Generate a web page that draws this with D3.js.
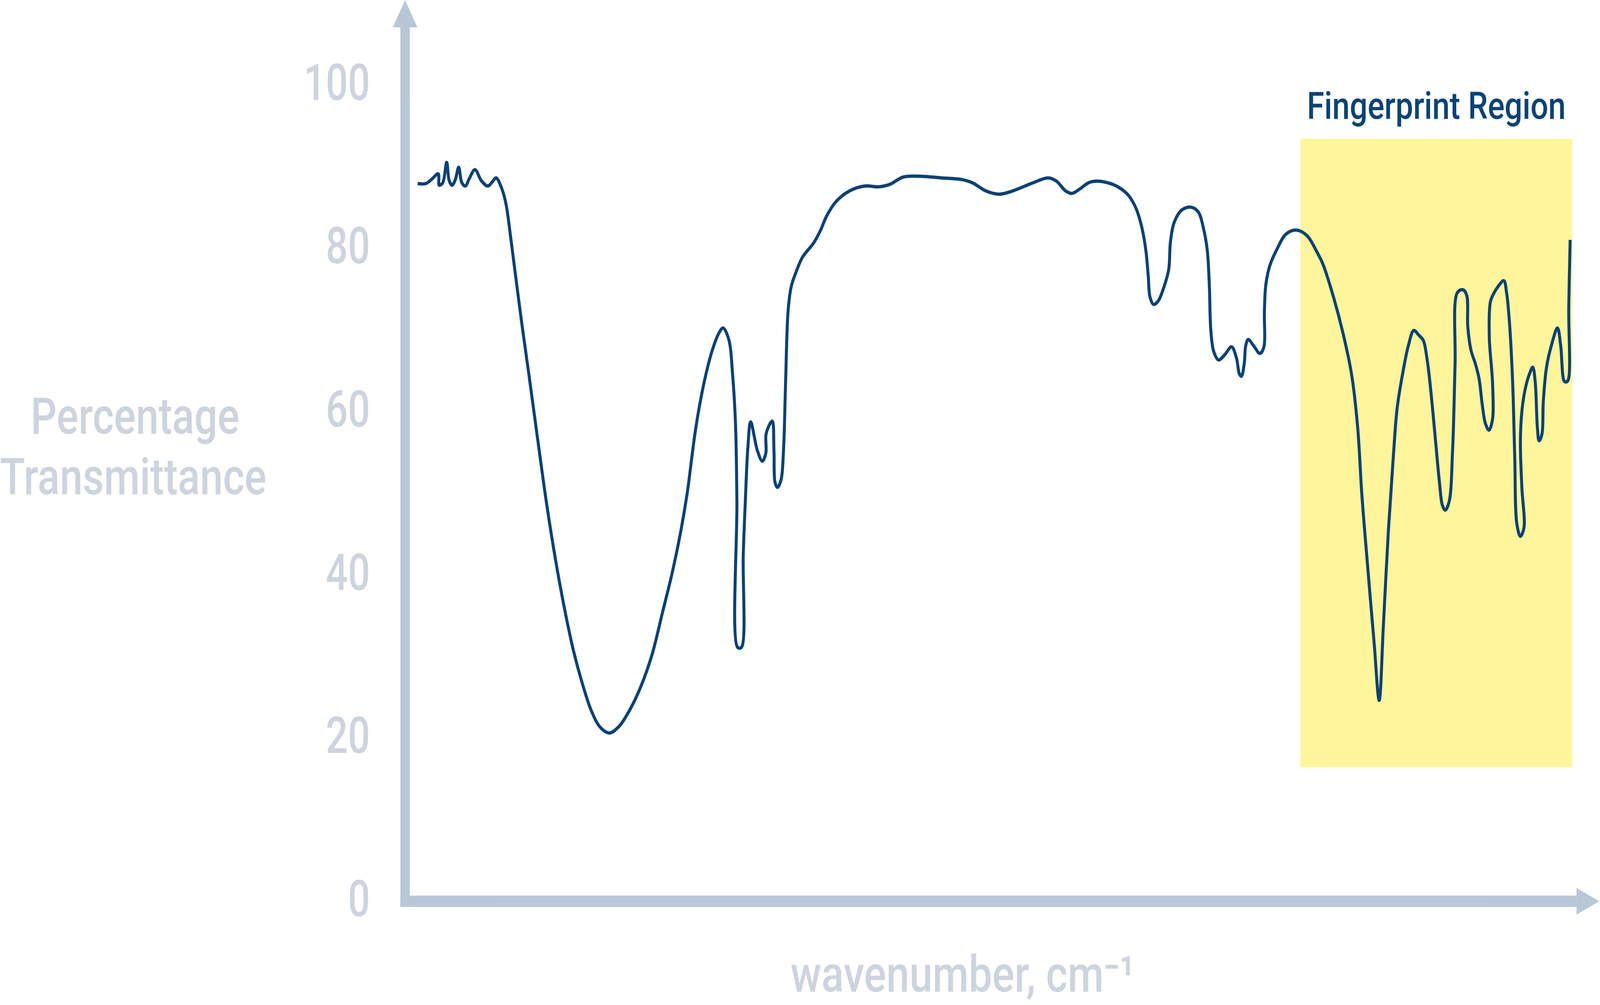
<!DOCTYPE html>
<html>
<head>
<meta charset="utf-8">
<title>IR spectrum - Percentage Transmittance</title>
<script src="https://d3js.org/d3.v7.min.js"></script>
<style>
  html, body { margin: 0; padding: 0; background: #fff; overflow: hidden; }
  svg { display: block; width: 100vw; height: 100vh; }
  .lbl {
    font-family: Roboto, "DejaVu Sans", sans-serif;
    font-weight: 500;
    fill: #cdd4de;
  }
</style>
</head>
<body>
<svg id="chart" viewBox="0 0 4562 2572" preserveAspectRatio="none"></svg>
<script>
// spectrum: wavenumber (cm-1) and % transmittance
const wavenumber = [
  4000,3977,3961,3942,3939,3929,3918,3911,3903,3894,
  3884,3875,3865,3854,3838,3819,3801,3787,3778,3762,
  3750,3737,3724,3705,3686,3660,3635,3610,3585,3559,
  3534,3508,3483,3457,3430,3401,3369,3337,3306,3281,
  3255,3236,3223,3214,3201,3185,3167,3148,3135,3119,
  3108,3100,3096,3094,3083,3078,3072,3065,3057,3038,
  3024,3014,3013,2996,2991,2988,2981,2971,2964,2958,
  2951,2942,2929,2910,2879,2860,2841,2815,2777,2733,
  2695,2663,2625,2580,2518,2460,2429,2391,2353,2315,
  2257,2214,2191,2165,2147,2126,2100,2077,2046,2017,
  1988,1966,1949,1938,1931,1926,1916,1903,1886,1873,
  1868,1857,1835,1809,1789,1775,1764,1758,1754,1746,
  1732,1715,1695,1681,1673,1667,1659,1655,1648,1632,
  1615,1604,1602,1598,1587,1566,1541,1511,1481,1453,
  1436,1407,1379,1355,1338,1326,1309,1291,1277,1265,
  1251,1237,1226,1211,1194,1179,1164,1152,1141,1130,
  1118,1106,1098,1090,1079,1069,1062,1056,1040,1029,
  1026,1017,1005,994,985,976,966,956,956,965,
  962,953,940,924,916,908,899,893,887,877,
  867,873,877,873,864,852,842,835,829,824,
  816,812,803,789,772,763,754,749,742,740,736
];
const transmittance = [
  87.5,87.5,88.0,88.7,87.3,87.6,90.1,87.9,87.3,87.9,
  89.5,87.6,87.2,88.1,89.2,87.8,87.2,87.8,88.2,86.9,
  85.0,81.0,76.6,70.3,64.4,56.1,48.3,41.5,35.6,30.3,
  26.3,22.9,20.9,20.2,21.0,22.9,25.8,29.7,35.1,39.5,
  44.9,49.8,54.2,57.1,60.5,63.9,66.9,69.1,69.8,68.4,
  64.0,58.1,48.7,30.7,30.7,42.0,48.7,55.1,58.3,54.8,
  53.5,54.5,56.9,58.4,54.8,50.9,50.3,51.2,54.8,63.3,
  71.9,74.9,76.6,78.5,80.2,81.7,83.6,85.3,86.6,87.2,
  87.1,87.4,88.3,88.4,88.2,88.0,87.6,86.6,86.2,86.6,
  87.6,88.2,87.8,86.6,86.3,86.8,87.6,87.8,87.6,87.1,
  86.1,84.5,82.1,79.4,76.2,73.6,72.7,73.1,74.9,77.0,
  80.4,82.8,84.3,84.6,84.0,82.1,79.4,75.1,69.7,67.0,
  65.9,66.5,67.5,66.1,64.2,63.9,65.5,67.6,68.4,67.6,
  66.7,67.4,71.9,75.1,77.4,79.5,81.3,81.8,81.1,79.1,
  77.6,73.7,69.1,64.1,57.7,49.4,40.3,31.1,24.2,33.4,
  44.9,54.0,60.0,64.1,67.7,69.5,68.9,68.3,65.9,61.8,
  56.3,50.8,48.1,47.5,48.5,54.9,65.4,74.1,74.5,73.8,
  70.0,67.1,65.5,63.6,60.4,58.1,57.3,58.6,63.2,68.6,
  73.0,74.0,74.9,75.6,74.1,70.5,63.2,54.0,45.8,44.3,
  45.3,50.4,55.8,59.5,62.2,64.1,65.0,63.2,57.7,56.0,
  56.8,60.9,65.0,67.7,69.8,67.7,63.4,63.2,63.4,72.3,80.6
];
const yTicks = [0, 20, 40, 60, 80, 100];
const fingerprintRange = [1500, 730];   // cm-1
const fingerprintLevels = [16, 93];     // % T spanned by the box

// layout (viewBox units)
const axisX = 1155, axisY = 2306.5;
const axisColor = "#7391af";
const lineColor = "#0c4173";

var svg = d3.select("#chart");

var x = d3.scaleLinear()
    .domain([4000, 730])
    .range([1191, 4483]);

var y = d3.scaleLinear()
    .domain([0, 100])
    .range([2298, 208.6]);

// fingerprint region box
svg.append("rect")
    .attr("x", x(fingerprintRange[0]))
    .attr("y", y(fingerprintLevels[1]))
    .attr("width", x(fingerprintRange[1]) - x(fingerprintRange[0]))
    .attr("height", y(fingerprintLevels[0]) - y(fingerprintLevels[1]))
    .style("fill", "#fff59c");

svg.append("text")
    .attr("x", (x(fingerprintRange[0]) + x(fingerprintRange[1])) / 2)
    .attr("y", 304)
    .attr("text-anchor", "middle")
    .attr("textLength", 738)
    .attr("lengthAdjust", "spacingAndGlyphs")
    .style("font-family", "Roboto, 'DejaVu Sans', sans-serif")
    .style("font-weight", 500)
    .style("font-size", "97px")
    .style("fill", "#0c4373")
    .text("Fingerprint Region");

// axes: thick translucent bars with arrow heads
var axes = svg.append("g").style("fill", axisColor).style("opacity", 0.5);
axes.append("rect")   // vertical shaft
    .attr("x", axisX - 13.5).attr("y", 70)
    .attr("width", 27).attr("height", axisY + 14.5 - 70);
axes.append("path")
    .attr("d", "M" + axisX + ",0 L" + (axisX + 35) + ",70 L" + (axisX - 35) + ",70 Z");
axes.append("rect")   // horizontal shaft
    .attr("x", axisX - 13.5).attr("y", axisY - 14.5)
    .attr("width", 4495 - (axisX - 13.5)).attr("height", 29);
axes.append("path")
    .attr("d", "M4495," + (axisY - 34) + " L4560," + axisY + " L4495," + (axisY + 34) + " Z");

// y tick labels
var yAxis = d3.axisLeft(y)
    .tickValues(yTicks)
    .tickSize(0)
    .tickPadding(100);

var gy = svg.append("g")
    .attr("transform", "translate(" + axisX + ",0)")
    .call(yAxis);
gy.select(".domain").remove();
gy.selectAll("text")
    .attr("class", "lbl")
    .attr("dy", "0.36em")
    .attr("x", -100)
    .attr("textLength", function(d) { return String(d).length * 63; })
    .attr("lengthAdjust", "spacingAndGlyphs")
    .style("font-size", "130px")
    .attr("font-family", null)
    .attr("font-size", null)
    .attr("fill", null);

// axis titles
var yTitle = svg.append("text")
    .attr("class", "lbl")
    .attr("text-anchor", "middle")
    .style("font-size", "130px");
yTitle.append("tspan")
    .attr("x", 385).attr("y", 1110)
    .attr("textLength", 595).attr("lengthAdjust", "spacingAndGlyphs")
    .text("Percentage");
yTitle.append("tspan")
    .attr("x", 380).attr("y", 1265)
    .attr("textLength", 760).attr("lengthAdjust", "spacingAndGlyphs")
    .text("Transmittance");

svg.append("text")
    .attr("class", "lbl")
    .attr("x", 2254)
    .attr("y", 2538)
    .attr("textLength", 981).attr("lengthAdjust", "spacingAndGlyphs")
    .style("font-size", "130px")
    .text("wavenumber, cm\u207B\u00B9");

// spectrum
var spectrum = wavenumber.map(function(w, i) { return { wn: w, t: transmittance[i] }; });

var line = d3.line()
    .x(function(d) { return x(d.wn); })
    .y(function(d) { return y(d.t); })
    .curve(d3.curveCatmullRom.alpha(0.5));

svg.append("path")
    .datum(spectrum)
    .attr("d", line)
    .style("fill", "none")
    .style("stroke", lineColor)
    .style("stroke-width", 8.5)
    .style("stroke-linejoin", "round");
</script>
</body>
</html>
